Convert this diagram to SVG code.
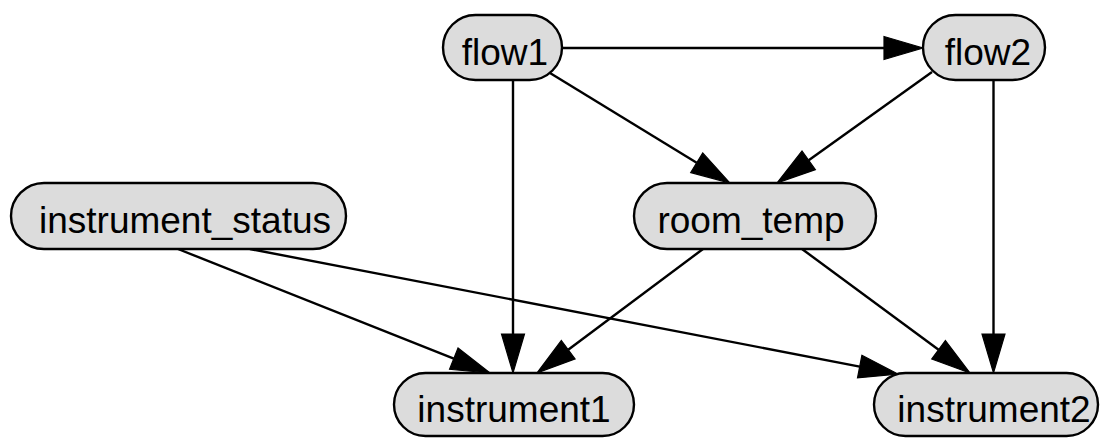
<svg xmlns="http://www.w3.org/2000/svg" width="1102" height="438" viewBox="0 0 1102 438">
<style>
.node rect{fill:#dcdcdc;stroke:#000;stroke-width:2.4}
.node text{font-family:"Liberation Sans",Arial,Helvetica,sans-serif;font-size:37px;fill:#000;text-anchor:middle}
.edges line{stroke:#000;stroke-width:2.4}
</style>
<defs>
<marker id="ah" viewBox="0 -12 40 24" markerWidth="40" markerHeight="24" refX="0" refY="0" orient="auto" markerUnits="userSpaceOnUse" overflow="visible">
<path d="M0,-11.5 L39,0 L0,11.5 Z" fill="#000" stroke="#000" stroke-width="1.2"/>
</marker>
</defs>
<rect width="1102" height="438" fill="#fff"/>
<g class="edges">
<line x1="563" y1="48" x2="884" y2="48" marker-end="url(#ah)"/>
<line x1="550" y1="73" x2="696.7" y2="162.7" marker-end="url(#ah)"/>
<line x1="932" y1="72" x2="808.7" y2="160.3" marker-end="url(#ah)"/>
<line x1="513" y1="81" x2="513" y2="334" marker-end="url(#ah)"/>
<line x1="993.5" y1="81" x2="993.5" y2="334" marker-end="url(#ah)"/>
<line x1="178" y1="249" x2="453.8" y2="358.6" marker-end="url(#ah)"/>
<line x1="250" y1="249" x2="859.7" y2="366.6" marker-end="url(#ah)"/>
<line x1="703" y1="249" x2="568.2" y2="349.7" marker-end="url(#ah)"/>
<line x1="802" y1="249" x2="938.6" y2="349.8" marker-end="url(#ah)"/>
</g>
<g id="flow1" class="node"><rect x="443" y="15" width="119" height="65" rx="32.5"/><text x="505" y="65">flow1</text></g>
<g id="flow2" class="node"><rect x="923" y="15" width="122" height="65" rx="32.5"/><text x="988" y="65">flow2</text></g>
<g id="instrument_status" class="node"><rect x="11" y="183" width="335" height="66" rx="33"/><text x="185" y="233">instrument_status</text></g>
<g id="room_temp" class="node"><rect x="634" y="183" width="242" height="66" rx="33"/><text x="751" y="233">room_temp</text></g>
<g id="instrument1" class="node"><rect x="394" y="373" width="240" height="63" rx="31.5"/><text x="514" y="422">instrument1</text></g>
<g id="instrument2" class="node"><rect x="874" y="373" width="224" height="63" rx="31.5"/><text x="994" y="422">instrument2</text></g>
</svg>
